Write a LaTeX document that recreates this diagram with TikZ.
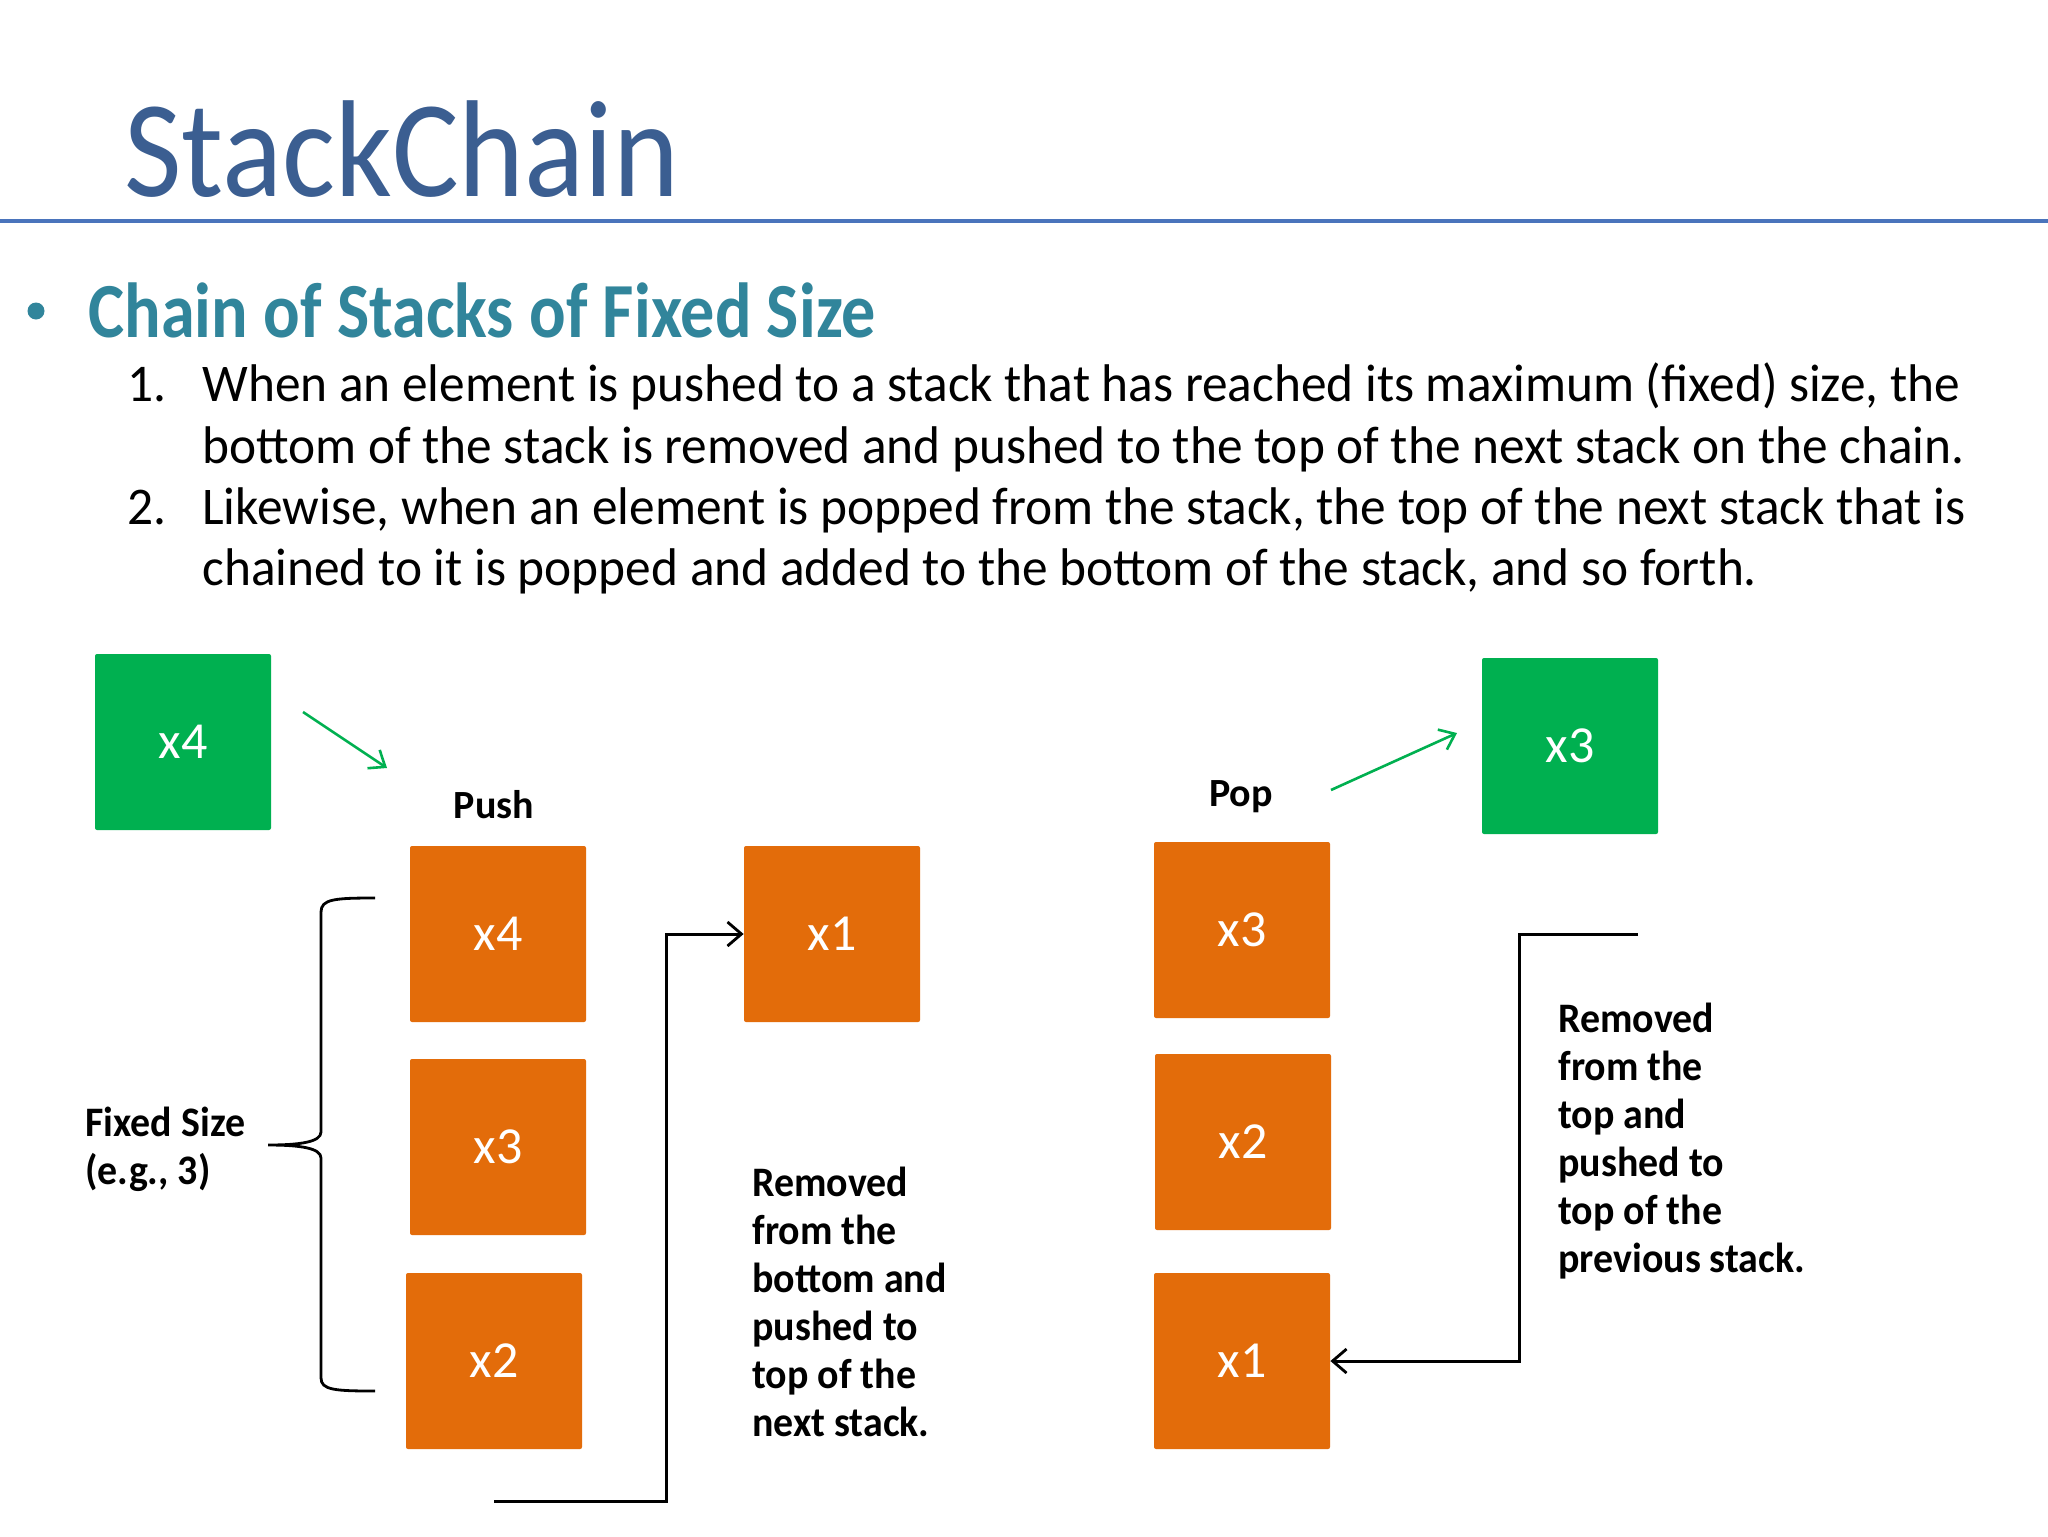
\documentclass[tikz,border=0pt]{standalone}
\usepackage{fontspec}
\usepackage{graphicx}
\setmainfont{Carlito}
\usetikzlibrary{arrows.meta}
\definecolor{titleblue}{RGB}{59,94,145}
\definecolor{headteal}{RGB}{49,133,155}
\definecolor{ruleblue}{RGB}{74,116,188}
\definecolor{boxorange}{RGB}{227,108,10}
\definecolor{boxgreen}{RGB}{0,176,80}
\newcommand{\hsq}[2]{\scalebox{#1}[1]{#2}}
\newcommand{\nsq}[1]{\scalebox{0.95}[1]{#1}}
\begin{document}
\begin{tikzpicture}[x=0.5pt,y=-0.5pt,
  every node/.style={inner sep=0pt},
  stackbox/.style={rectangle, rounded corners=1pt, minimum width=88pt, minimum height=88pt, fill=boxorange, text=white, font=\fontsize{26}{30}\selectfont},
  greenbox/.style={stackbox, fill=boxgreen},
  notelabel/.style={font=\bfseries\fontsize{21}{24}\selectfont, align=left, anchor=north west},
  conn/.style={line width=1.5pt, -{Straight Barb[length=7pt,width=12pt,line width=1.4pt]}},
  greenarrow/.style={boxgreen, line width=1.3pt, -{Straight Barb[length=7pt,width=11pt]}},
  itemtext/.style={font=\fontsize{26.5}{30.5}\selectfont, anchor=base west}
]
\fill[white] (0,0) rectangle (2048,1536);
\useasboundingbox (0,0) rectangle (2048,1536);

% title and rule
\node[anchor=base west, text=titleblue, font=\fontsize{69}{80}\selectfont] (title) at (124,196) {\hsq{0.907}{StackChain}};
\draw[ruleblue, line width=2pt] (0,221) -- (2048,221);

% heading
\node[circle, fill=headteal, minimum size=8.5pt] (bullet) at (36,311) {};
\node[anchor=base west, text=headteal, font=\bfseries\fontsize{39}{45}\selectfont] (heading) at (88,337) {\hsq{0.874}{Chain of Stacks of Fixed Size}};

% items
\node[itemtext] (n1) at (127,401) {\hsq{0.97}{1.}};
\node[itemtext] (l1a) at (202,401) {\hsq{0.969}{When an element is pushed to a stack that has reached its maximum (fixed) size, the}};
\node[itemtext] (l1b) at (202,463) {\hsq{0.969}{bottom of the stack is removed and pushed to the top of the next stack on the chain.}};
\node[itemtext] (n2) at (127,524) {\hsq{0.97}{2.}};
\node[itemtext] (l2a) at (202,524) {\hsq{0.969}{Likewise, when an element is popped from the stack, the top of the next stack that is}};
\node[itemtext] (l2b) at (202,585) {\hsq{0.969}{chained to it is popped and added to the bottom of the stack, and so forth.}};

% push side
\node[greenbox] (g4) at (183,742) {x4};
\node[font=\bfseries\fontsize{20}{24}\selectfont] (push) at (494,805) {Push};
\node[stackbox] (a4) at (498,934) {x4};
\node[stackbox] (a3) at (498,1147) {x3};
\node[stackbox] (a2) at (494,1361) {x2};
\node[stackbox] (b1) at (832,934) {x1};

\coordinate (gpa) at (303,712);
\coordinate (gpb) at (387,768);
\draw[greenarrow] (gpa) -- (gpb);

% brace
\draw[line width=1.4pt] (375,898) .. controls (335,898) and (321,899) .. (321,912) -- (321,1132)
  .. controls (321,1142) and (300,1145) .. (268,1145)
  .. controls (300,1145) and (321,1148) .. (321,1158) -- (321,1378)
  .. controls (321,1390) and (335,1391) .. (375,1391);
\node[notelabel] (fixed) at (85,1107) {\nsq{Fixed Size}\\\nsq{(e.g., 3)}};

\coordinate (pushfrom) at (494,1501);
\draw[conn] (pushfrom) -| (666,934) -- (b1.west);
\node[notelabel] (pushnote) at (752,1167) {\nsq{Removed}\\\nsq{from the}\\\nsq{bottom and}\\\nsq{pushed to}\\\nsq{top of the}\\\nsq{next stack.}};

% pop side
\node[font=\bfseries\fontsize{20}{24}\selectfont] (pop) at (1241,797) {Pop};
\node[stackbox] (p3) at (1242,930) {x3};
\node[stackbox] (p2) at (1243,1142) {x2};
\node[stackbox] (p1) at (1242,1361) {x1};
\node[greenbox] (g3) at (1570,746) {x3};

\coordinate (gqa) at (1331,790);
\coordinate (gqb) at (1457,733);
\draw[greenarrow] (gqa) -- (gqb);

\coordinate (popfrom) at (1638,934);
\draw[conn] (popfrom) -- (1519,934) |- (p1.east);
\node[notelabel] (popnote) at (1558,1003) {\nsq{Removed}\\\nsq{from the}\\\nsq{top and}\\\nsq{pushed to}\\\nsq{top of the}\\\nsq{previous stack.}};
\end{tikzpicture}
\end{document}
